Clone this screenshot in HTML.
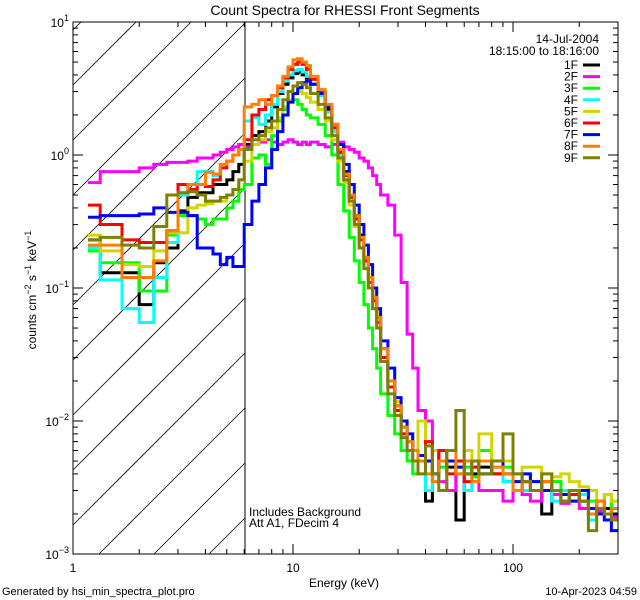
<!DOCTYPE html>
<html><head><meta charset="utf-8"><style>
html,body{margin:0;padding:0;background:#fff;width:640px;height:600px;overflow:hidden;}
svg{display:block;font-family:"Liberation Sans",sans-serif;}
</style></head><body>
<svg id="chart" width="640" height="600" viewBox="0 0 640 600" xmlns="http://www.w3.org/2000/svg">
<rect x="0" y="0" width="640" height="600" fill="#fff"/>
<defs><clipPath id="plotclip"><rect x="73" y="22" width="545" height="532"/></clipPath></defs>
<text x="345" y="15" font-size="14" text-anchor="middle">Count Spectra for RHESSI Front Segments</text>
<g id="hatch"></g>
<line x1="245" y1="22" x2="245" y2="554" stroke="#000" stroke-width="1"/>
<g id="series" clip-path="url(#plotclip)"></g>
<rect x="73" y="22" width="545" height="532" fill="none" stroke="#000" stroke-width="1"/>
<g id="axes"></g>
<g id="legend"></g>
<text x="599" y="43" font-size="12" text-anchor="end">14-Jul-2004</text>
<text x="599" y="55" font-size="12" text-anchor="end">18:15:00 to 18:16:00</text>
<text x="249" y="516" font-size="12">Includes Background</text>
<text x="249" y="527" font-size="12">Att A1, FDecim  4</text>
<text x="344" y="587" font-size="12" text-anchor="middle">Energy (keV)</text>
<text transform="translate(36,290) rotate(-90)" font-size="12" text-anchor="middle">counts cm<tspan dy="-5" font-size="9">−2</tspan><tspan dy="5"> s</tspan><tspan dy="-5" font-size="9">−1</tspan><tspan dy="5"> keV</tspan><tspan dy="-5" font-size="9">−1</tspan></text>
<text x="2" y="595" font-size="11">Generated by hsi_min_spectra_plot.pro</text>
<text x="637" y="595" font-size="11" text-anchor="end">10-Apr-2023 04:59</text>
</svg>
<script>
const edges=[1.17,1.33,1.67,2,2.33,2.67,3,3.33,3.67,4,4.33,4.67,5,5.33,5.67,6,6.5,7,7.5,8,8.5,9,9.5,10,10.5,11,11.5,12,13,14,15,16,17,18,19,20,21,22,23,24,25,27,29,31,33,35,37,40,43,46,50,55,60,65,70,80,90,100,110,120,135,150,165,180,200,220,240,260,280,300];
const seriesNames=["1F","2F","3F","4F","5F","6F","7F","8F","9F"];
const seriesColors=["#000000","#ff00ff","#00ff00","#00ffff","#d4d400","#ff0000","#0000ff","#ff8000","#808000"];
const s1F=[0.23,0.13,0.13,0.075,0.155,0.2,0.38,0.48,0.52,0.52,0.6,0.6,0.65,0.75,0.85,1.2,1.4,1.5,1.8,2.3,2.9,3.4,3.8,4.1,4.2,4.0,3.8,3.4,2.9,2.2,1.6,1.1,0.75,0.5,0.35,0.25,0.17,0.12,0.085,0.06,0.035,0.02,0.013,0.009,0.007,0.006,0.005,0.0025,0.006,0.005,0.0045,0.0018,0.005,0.004,0.0045,0.004,0.0035,0.003,0.0035,0.003,0.002,0.003,0.0025,0.003,0.0025,0.0022,0.002,0.0022,0.002];
const s2F=[0.62,0.75,0.75,0.8,0.85,0.88,0.88,0.9,0.95,0.95,1.0,1.05,1.1,1.15,1.2,1.15,1.2,1.25,1.3,1.25,1.2,1.25,1.3,1.25,1.2,1.25,1.2,1.25,1.2,1.15,1.2,1.25,1.15,1.1,1.05,0.95,0.9,0.8,0.7,0.6,0.5,0.42,0.25,0.11,0.045,0.025,0.012,0.01,0.006,0.0035,0.003,0.004,0.003,0.0035,0.003,0.003,0.0025,0.003,0.0028,0.0025,0.003,0.0028,0.0024,0.0025,0.0022,0.002,0.0021,0.002,0.0019];
const s3F=[0.19,0.155,0.155,0.095,0.095,0.25,0.35,0.35,0.33,0.3,0.33,0.33,0.4,0.45,0.55,0.6,0.95,1.0,0.85,1.4,1.8,2.2,2.5,2.6,2.4,2.2,2.0,1.9,1.7,1.4,1.0,0.6,0.38,0.24,0.16,0.11,0.075,0.05,0.035,0.025,0.016,0.011,0.008,0.006,0.005,0.004,0.004,0.005,0.004,0.0045,0.005,0.004,0.0045,0.0038,0.006,0.004,0.0045,0.0035,0.004,0.0035,0.003,0.0035,0.003,0.0028,0.003,0.0025,0.0022,0.0028,0.0022];
const s4F=[0.2,0.115,0.07,0.055,0.12,0.22,0.5,0.55,0.75,0.75,0.7,0.85,0.9,1.0,1.1,1.8,1.9,1.7,2.0,2.4,3.0,3.6,4.0,4.3,4.4,4.2,3.9,3.4,2.8,2.1,1.5,1.0,0.7,0.48,0.33,0.23,0.16,0.11,0.08,0.055,0.03,0.018,0.012,0.008,0.006,0.005,0.005,0.003,0.0035,0.005,0.004,0.0045,0.003,0.005,0.004,0.0045,0.0035,0.004,0.003,0.003,0.0035,0.0025,0.003,0.0025,0.0028,0.0018,0.0022,0.002,0.0018];
const s5F=[0.25,0.19,0.15,0.145,0.19,0.26,0.26,0.4,0.42,0.43,0.45,0.45,0.5,0.55,0.65,0.9,1.2,1.3,1.5,1.6,1.9,2.3,2.6,2.9,3.0,2.9,2.7,2.5,2.2,1.8,1.3,0.9,0.62,0.42,0.29,0.2,0.14,0.1,0.07,0.05,0.03,0.02,0.014,0.01,0.008,0.006,0.01,0.007,0.006,0.005,0.005,0.0045,0.006,0.005,0.008,0.005,0.005,0.004,0.0045,0.0045,0.004,0.0038,0.004,0.0035,0.0032,0.003,0.0025,0.0028,0.0025];
const s6F=[0.42,0.3,0.23,0.22,0.22,0.27,0.6,0.55,0.6,0.58,0.65,0.8,0.9,1.0,1.1,1.3,2.0,2.2,2.6,2.8,3.2,3.8,4.4,4.8,5.0,4.8,4.4,3.7,3.0,2.3,1.6,1.05,0.7,0.48,0.33,0.23,0.16,0.11,0.08,0.055,0.03,0.018,0.012,0.008,0.007,0.006,0.005,0.007,0.004,0.006,0.004,0.005,0.0035,0.0045,0.005,0.004,0.004,0.003,0.0035,0.003,0.0035,0.003,0.0028,0.0028,0.0025,0.0022,0.0025,0.002,0.0022];
const s7F=[0.34,0.35,0.35,0.36,0.4,0.37,0.37,0.35,0.2,0.2,0.18,0.15,0.17,0.145,0.145,0.3,0.45,0.6,0.8,1.1,1.5,2.0,2.5,2.9,3.2,3.5,3.6,3.4,2.9,2.3,1.7,1.2,0.85,0.6,0.42,0.3,0.21,0.15,0.1,0.07,0.04,0.025,0.015,0.01,0.008,0.006,0.0055,0.005,0.004,0.005,0.005,0.0045,0.004,0.005,0.004,0.005,0.004,0.0035,0.004,0.0035,0.003,0.003,0.0028,0.0025,0.003,0.0022,0.002,0.0018,0.0015];
const s8F=[0.21,0.21,0.12,0.12,0.16,0.27,0.52,0.6,0.6,0.74,0.72,0.85,0.9,1.0,1.1,2.3,2.4,2.6,2.4,2.8,3.3,3.9,4.6,5.2,5.3,5.0,4.7,3.9,3.1,2.4,1.7,1.1,0.72,0.5,0.35,0.24,0.17,0.12,0.085,0.06,0.035,0.02,0.013,0.009,0.007,0.006,0.005,0.004,0.0035,0.005,0.006,0.004,0.005,0.0035,0.005,0.0045,0.004,0.003,0.0035,0.003,0.0035,0.003,0.0025,0.003,0.0025,0.002,0.0025,0.002,0.0022];
const s9F=[0.23,0.24,0.21,0.2,0.29,0.5,0.52,0.53,0.5,0.45,0.45,0.48,0.5,0.55,0.65,1.1,1.3,1.4,1.6,1.8,2.2,2.6,3.0,3.3,3.5,3.4,3.2,2.9,2.4,1.9,1.4,0.95,0.65,0.45,0.3,0.2,0.14,0.1,0.07,0.05,0.028,0.016,0.011,0.0075,0.006,0.005,0.004,0.0065,0.004,0.003,0.006,0.012,0.004,0.005,0.004,0.005,0.008,0.004,0.0035,0.003,0.004,0.003,0.0025,0.003,0.0025,0.0015,0.0022,0.002,0.0018];
const allSeries=[s1F,s2F,s3F,s4F,s5F,s6F,s7F,s8F,s9F];
const yMajorLabels=["1","0","−1","−2","−3"];
const yMajorValues=[10,1,0.1,0.01,0.001];
const xMajorLabels=["1","10","100"];
const xMajorValues=[1,10,100];

const NS="http://www.w3.org/2000/svg";
const L=73,R=618,T=22,B=554,HX=245;
const xMin=1,xMax=300,yMin=0.001,yMax=10;
function X(e){return L+(R-L)*Math.log10(e/xMin)/Math.log10(xMax/xMin);}
function Y(v){return T+(B-T)*(Math.log10(yMax)-Math.log10(v))/(Math.log10(yMax/yMin));}
function mk(tag,attrs,parent){const el=document.createElementNS(NS,tag);for(const k in attrs)el.setAttribute(k,attrs[k]);parent.appendChild(el);return el;}

const hatch=document.getElementById('hatch');
for(let k=-12;k<14;k++){
  const b=85+55*k;
  const xs=Math.max(L,L+b-B), xe=Math.min(HX,L+b-T);
  if(xe<=xs)continue;
  const ln=mk('line',{x1:xs,y1:b-(xs-L),x2:xe,y2:b-(xe-L),stroke:'#000','stroke-width':0.8},hatch);
  
  
}

const sg=document.getElementById('series');
allSeries.forEach((vals,si)=>{
  let d='M'+X(edges[0]).toFixed(1)+','+Y(vals[0]).toFixed(1);
  for(let i=0;i<vals.length;i++){
    if(i>0)d+=' V'+Y(vals[i]).toFixed(1);
    d+=' H'+X(edges[i+1]).toFixed(1);
  }
  const p=mk('path',{d:d,fill:'none',stroke:seriesColors[si],'stroke-width':3,'stroke-linejoin':'miter'},sg);
  
  
});

const ax=document.getElementById('axes');
yMajorValues.forEach((v,i)=>{
  const y=Y(v);
  mk('line',{x1:L,y1:y,x2:L+10,y2:y,stroke:'#000'},ax);
  mk('line',{x1:R,y1:y,x2:R-10,y2:y,stroke:'#000'},ax);
  const t=mk('text',{x:L-4,y:y+5,'font-size':12,'text-anchor':'end'},ax);
  
  
  t.textContent='10';
  const s=mk('tspan',{dy:-6,'font-size':9},t);s.textContent=yMajorLabels[i];
  if(i<yMajorValues.length-1){
    for(let m=2;m<=9;m++){const yy=Y(yMajorValues[i+1]*m);
      mk('line',{x1:L,y1:yy,x2:L+5,y2:yy,stroke:'#000'},ax);
      mk('line',{x1:R,y1:yy,x2:R-5,y2:yy,stroke:'#000'},ax);}
  }
});
xMajorValues.forEach((v,i)=>{
  const x=X(v);
  mk('line',{x1:x,y1:B,x2:x,y2:B-10,stroke:'#000'},ax);
  mk('line',{x1:x,y1:T,x2:x,y2:T+10,stroke:'#000'},ax);
  const t=mk('text',{x:x,y:B+18,'font-size':12,'text-anchor':'middle'},ax);
  
  
  t.textContent=xMajorLabels[i];
  for(let m=2;m<=9;m++){const e=v*m;if(e>xMax)break;const xx=X(e);
    mk('line',{x1:xx,y1:B,x2:xx,y2:B-5,stroke:'#000'},ax);
    mk('line',{x1:xx,y1:T,x2:xx,y2:T+5,stroke:'#000'},ax);}
});

const lg=document.getElementById('legend');
seriesNames.forEach((n,i)=>{
  const y=65+i*11.6;
  const t=mk('text',{x:578,y:y+4,'font-size':12,'text-anchor':'end'},lg);
  
  
  t.textContent=n;
  const l=mk('line',{x1:583,y1:y,x2:600,y2:y,stroke:seriesColors[i],'stroke-width':3},lg);
  
  
});
</script>
</body></html>
